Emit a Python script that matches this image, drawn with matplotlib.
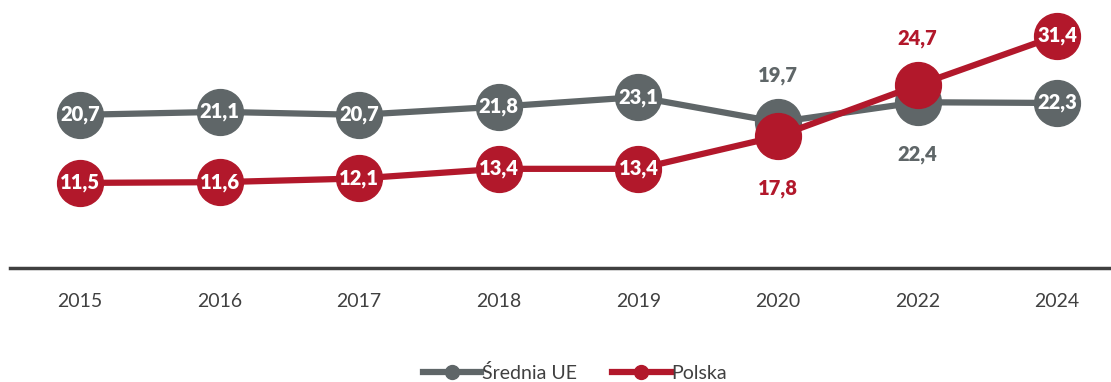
import matplotlib
matplotlib.use("Agg")
import matplotlib.pyplot as plt
from matplotlib.lines import Line2D

plt.rcParams['font.family'] = ['Lato', 'DejaVu Sans']

years = ["2015", "2016", "2017", "2018", "2019", "2020", "2022", "2024"]
srednia_ue = [20.7, 21.1, 20.7, 21.8, 23.1, 19.7, 22.4, 22.3]
polska = [11.5, 11.6, 12.1, 13.4, 13.4, 17.8, 24.7, 31.4]

# label placement per point: 'in' = inside marker, 'up'/'down' = outside
ue_pos = ["in", "in", "in", "in", "in", "up", "down", "in"]
pl_pos = ["in", "in", "in", "in", "in", "down", "up", "in"]

gray = "#5f6668"
red = "#b2182b"
axis_col = "#404040"

fig = plt.figure(figsize=(11.11, 3.82), dpi=100)
W, H = 1111, 382
x0, step = 80, 139.6
left = x0 - 0.5 * step
ax = fig.add_axes([left / W, (H - 268) / H, 8 * step / W, (268 - 9) / H])

x = list(range(len(years)))
ax.plot(x, srednia_ue, color=gray, lw=4.5, marker="o", ms=33, zorder=2,
        solid_capstyle="butt")
ax.plot(x, polska, color=red, lw=4.5, marker="o", ms=33, zorder=3,
        solid_capstyle="butt")


def fmt(v):
    return f"{v:.1f}".replace(".", ",")


def annotate(vals, pos, col, z):
    for i, (v, p) in enumerate(zip(vals, pos)):
        if p == "in":
            ax.text(i, v, fmt(v), ha="center", va="center", color="white",
                    fontsize=14.5, fontweight="heavy", zorder=z)
        else:
            dy = 6.3 if p == "up" else -7.0
            ax.text(i, v + dy, fmt(v), ha="center", va="center", color=col,
                    fontsize=14.5, fontweight="heavy", zorder=z)


annotate(srednia_ue, ue_pos, gray, 4)
annotate(polska, pl_pos, red, 5)

ax.set_xlim(-0.5, 7.5)
ax.set_ylim(0, 35)
ax.set_xticks(x)
ax.set_xticklabels(years, fontsize=14, color=axis_col)
ax.tick_params(axis="x", length=0, pad=18)
ax.set_yticks([])
for s in ["top", "left", "right"]:
    ax.spines[s].set_visible(False)
ax.spines["bottom"].set_color(axis_col)
ax.spines["bottom"].set_linewidth(2.5)
ax.patch.set_alpha(0)

handles = [
    Line2D([], [], color=gray, lw=4.5, marker="o", ms=10),
    Line2D([], [], color=red, lw=4.5, marker="o", ms=10),
]
fig.legend(handles, ["Średnia UE", "Polska"], loc="center",
           bbox_to_anchor=(575 / W, 1 - 373 / H), ncol=2, frameon=False,
           fontsize=14, handlelength=3.0, handletextpad=0.05,
           columnspacing=1.8, labelcolor=axis_col, borderpad=0.1)

fig.savefig("out.png", dpi=100)
